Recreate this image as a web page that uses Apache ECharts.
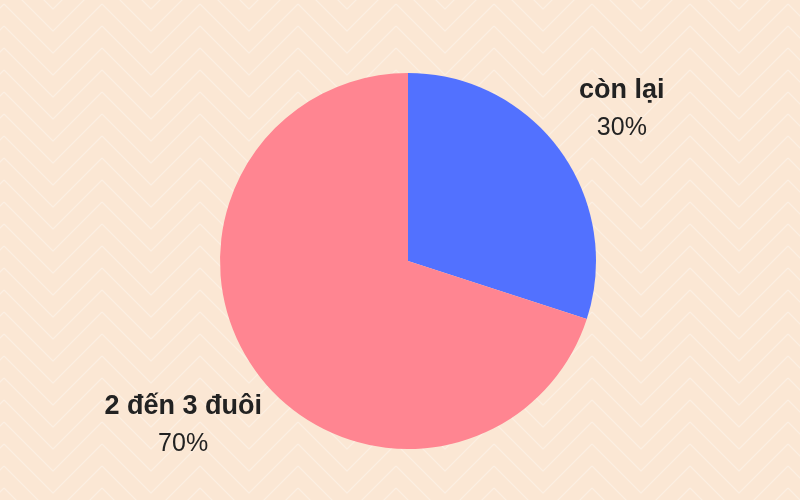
<!DOCTYPE html>
<html><head><meta charset="utf-8">
<script src="https://cdn.jsdelivr.net/npm/echarts@6/dist/echarts.min.js"></script>
<style>html,body{margin:0;padding:0;background:#FBE7D4;}#c{width:800px;height:500px;}</style>
</head><body><div id="c"></div>
<script>
const categories = ['còn lại', '2 đến 3 đuôi'];
const values = [30, 70];
const colors = ['#5271FF', '#FF8591'];

// chevron background tile
const tile = document.createElement('canvas');
const TW = 98, TH = 22;
tile.width = TW; tile.height = TH;
const g = tile.getContext('2d');
g.fillStyle = '#FBE7D4';
g.fillRect(0, 0, TW, TH);
g.strokeStyle = 'rgba(255,255,255,0.32)';
g.lineWidth = 1.3;
for (let sx = -TW; sx <= TW; sx += TW) {
  for (let k = -4; k <= 2; k++) {
    const y0 = k * TH + 4;
    const x0 = sx + 4;
    g.beginPath();
    g.moveTo(x0, y0);
    g.lineTo(x0 + TW / 2, y0 + TW / 2);
    g.lineTo(x0 + TW, y0);
    g.stroke();
  }
}

const labelShift = [[-7, 9], [-4, 4]];
const data = categories.map((n, i) => ({ name: n, value: values[i], itemStyle: { color: colors[i] } }));
const chart = echarts.init(document.getElementById('c'), null, { renderer: 'canvas' });
chart.setOption({
  backgroundColor: { image: tile, repeat: 'repeat' },
  animation: false,
  series: [
    {
      type: 'pie', center: [408, 261], radius: [0, 188], startAngle: 90, clockwise: true,
      label: { show: false }, labelLine: { show: false }, silent: true,
      data: data
    },
    {
      type: 'pie', center: [408, 261], radius: [252, 288], startAngle: 90, clockwise: true,
      silent: true, labelLine: { show: false },
      itemStyle: { color: 'rgba(0,0,0,0)' },
      label: {
        show: true, position: 'inside',
        formatter: p => '{b|' + p.name + '}\n{c|' + p.value + '%}',
        rich: {
          b: { fontFamily: 'Liberation Sans, Arial, sans-serif', fontWeight: 'bold', fontSize: 27, color: '#222222', lineHeight: 37 },
          c: { fontFamily: 'Liberation Sans, Arial, sans-serif', fontSize: 25, color: '#222222', lineHeight: 37 }
        }
      },
      data: categories.map((n, i) => ({ name: n, value: values[i], label: { offset: labelShift[i] } }))
    }
  ]
});
</script></body></html>
